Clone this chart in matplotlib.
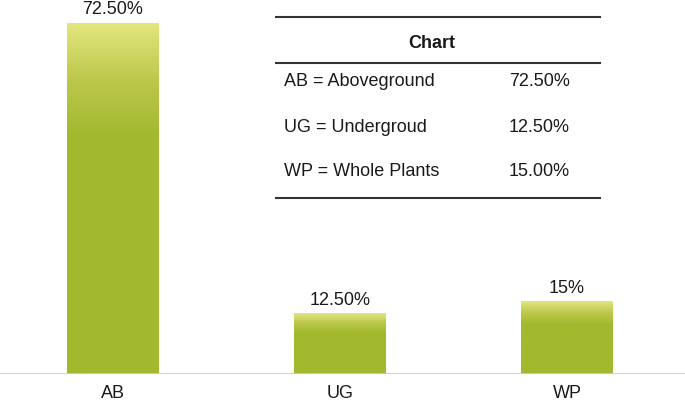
import matplotlib.pyplot as plt
import numpy as np
from matplotlib.colors import LinearSegmentedColormap
from matplotlib.lines import Line2D

plt.rcParams['font.family'] = ['Liberation Sans', 'DejaVu Sans']

categories = ['AB', 'UG', 'WP']
values = [72.5, 12.5, 15.0]
bar_labels = ['72.50%', '12.50%', '15%']
table_title = 'Chart'
table_labels = ['AB = Aboveground', 'UG = Undergroud', 'WP = Whole Plants']
table_values = ['72.50%', '12.50%', '15.00%']

W, H = 685, 405
fig = plt.figure(figsize=(W / 100, H / 100), dpi=100)
ax = fig.add_axes([0, 31 / H, 1, 374 / H])

x = np.arange(len(categories))
width = 0.405
ax.set_xlim(-0.498, 2.52)
ax.set_ylim(0, 77.3)

cmap = LinearSegmentedColormap.from_list('g', ['#a2b92f', '#bcc84c', '#e4e57f'])
for xi, v, lab in zip(x, values, bar_labels):
    n = 200
    t = np.linspace(0, 1, n)
    # ramp only in the top part of the bar
    g = np.clip((t - 0.68) / 0.32, 0, 1)[:, None]
    ax.imshow(g, extent=(xi - width / 2, xi + width / 2, 0, v), origin='lower',
              cmap=cmap, vmin=0, vmax=1, aspect='auto', interpolation='bilinear', zorder=2)
    ax.text(xi, v + 1.0, lab, ha='center', va='bottom', fontsize=13, color='#1a1a1a')

ax.axhline(0, color='#cccccc', lw=2, zorder=3)
for s in ax.spines.values():
    s.set_visible(False)
ax.set_yticks([])
ax.set_xticks(x)
ax.set_xticklabels(categories, fontsize=13, color='#1a1a1a')
ax.tick_params(axis='x', length=0, pad=8)

# table in figure pixel coordinates
def fx(px):
    return px / W

def fy(py):
    return 1 - py / H

for py in [17, 63, 198]:
    fig.add_artist(Line2D([fx(276), fx(600)], [fy(py), fy(py)], color='#333333', lw=1.5))
fig.text(fx(432), fy(44), table_title, ha='center', va='center', fontsize=13,
         fontweight='bold', color='#1a1a1a')
row_y = [81, 128, 171]
for py, lab, val in zip(row_y, table_labels, table_values):
    fig.text(fx(284), fy(py), lab, ha='left', va='center', fontsize=13, color='#1a1a1a')
    fig.text(fx(570), fy(py), val, ha='right', va='center', fontsize=13, color='#1a1a1a')

fig.savefig('out.png', dpi=100)
